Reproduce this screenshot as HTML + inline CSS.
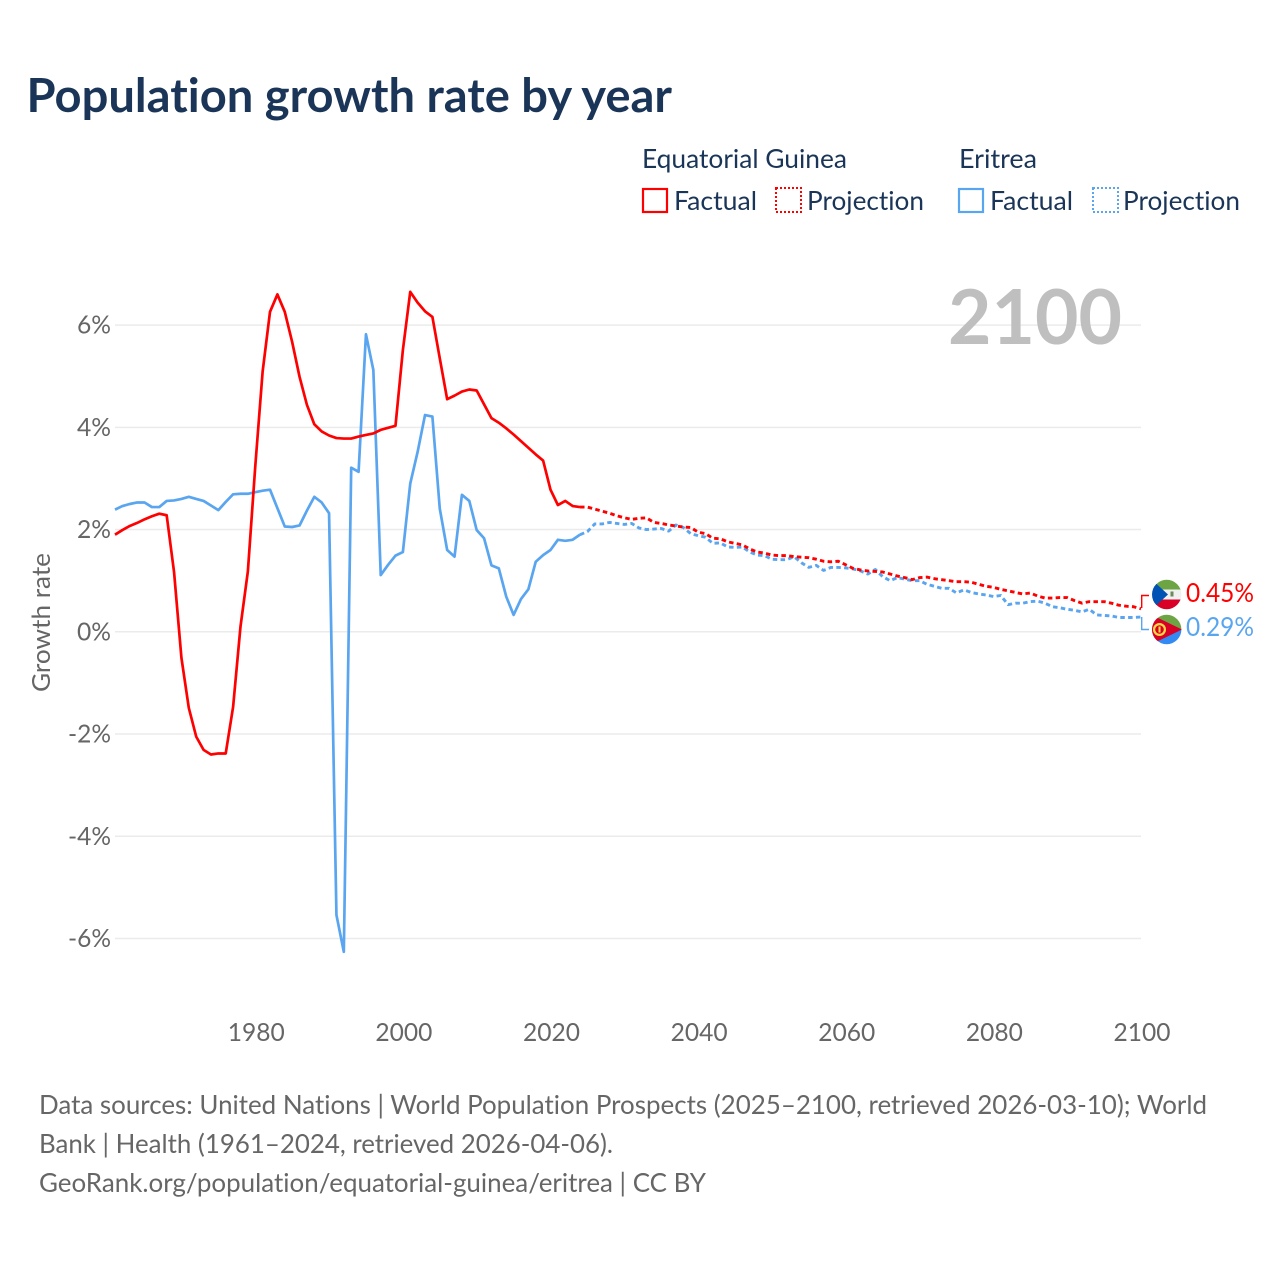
<!DOCTYPE html>
<html lang="en">
<head>
<meta charset="utf-8">
<title>Population growth rate by year</title>
<style>
html,body{margin:0;padding:0;background:#fff;}
svg{display:block;}
text{font-family:Lato,Carlito,"Liberation Sans",sans-serif;font-variant-ligatures:none;}
</style>
</head>
<body>
<svg id="chart" xmlns="http://www.w3.org/2000/svg" width="1280" height="1280" viewBox="0 0 1280 1280">
  <rect x="0" y="0" width="1280" height="1280" fill="#ffffff"/>
  <text x="26.5" y="112" font-size="47" font-weight="700" fill="#1a3557" textLength="645.5" lengthAdjust="spacingAndGlyphs">Population growth rate by year</text>

  <g font-size="26" fill="#1a3557">
    <text x="642" y="168" textLength="205" lengthAdjust="spacingAndGlyphs">Equatorial Guinea</text>
    <text x="959" y="168" textLength="78" lengthAdjust="spacingAndGlyphs">Eritrea</text>
    <rect x="643" y="189" width="24" height="23" fill="none" stroke="#ff0000" stroke-width="2.2"/>
    <text x="674" y="210" textLength="83" lengthAdjust="spacingAndGlyphs">Factual</text>
    <rect x="776" y="188" width="25" height="24" fill="none" stroke="#ff0000" stroke-width="2" stroke-dasharray="2 2"/>
    <text x="807" y="210" textLength="117" lengthAdjust="spacingAndGlyphs">Projection</text>
    <rect x="959" y="189" width="24" height="23" fill="none" stroke="#5aa5f0" stroke-width="2.2"/>
    <text x="990" y="210" textLength="83" lengthAdjust="spacingAndGlyphs">Factual</text>
    <rect x="1093" y="188" width="25" height="24" fill="none" stroke="#5aa5f0" stroke-width="2" stroke-dasharray="2 2"/>
    <text x="1123" y="210" textLength="117" lengthAdjust="spacingAndGlyphs">Projection</text>
  </g>

  <g id="grid"></g>
  <text x="948" y="344" font-size="76" font-weight="700" fill="#bfbfbf" textLength="174" lengthAdjust="spacingAndGlyphs">2100</text>
  <g id="y-ticks" font-size="25" fill="#666666"></g>
  <g id="x-ticks" font-size="25" fill="#666666"></g>
  <text transform="translate(50 692) rotate(-90)" font-size="25" fill="#666666" textLength="139" lengthAdjust="spacingAndGlyphs">Growth rate</text>
  <g id="series"></g>

  <defs>
    <clipPath id="flag-clip-top"><circle cx="1166.7" cy="594.5" r="14.7"/></clipPath>
    <clipPath id="flag-clip-bottom"><circle cx="1166.7" cy="629.5" r="14.7"/></clipPath>
  </defs>
  <g clip-path="url(#flag-clip-top)">
    <rect x="1150" y="579" width="34" height="11" fill="#6da544"/>
    <rect x="1150" y="589.5" width="34" height="10" fill="#f0f0f0"/>
    <rect x="1150" y="599.5" width="34" height="11" fill="#d80027"/>
    <polygon points="1152,579.8 1152,609.2 1168,594.5" fill="#0052b4"/>
    <rect x="1170.5" y="591.5" width="3" height="5" fill="#6d8a5a"/>
  </g>
  <g clip-path="url(#flag-clip-bottom)">
    <rect x="1150" y="614" width="34" height="16" fill="#6da544"/>
    <polygon points="1150,629.5 1184,629.5 1184,646 1150,646" fill="#338af3"/>
    <polygon points="1150,614 1182,629.5 1150,645" fill="#d80027"/>
    <circle cx="1159.5" cy="629.5" r="5.4" fill="none" stroke="#ffda44" stroke-width="2.2"/>
    <rect x="1158.5" y="626.5" width="2" height="6" fill="#ffda44"/>
  </g>
  <path d="M1141.7 608V595.5H1149" fill="none" stroke="#ff0000" stroke-width="1.4"/>
  <path d="M1141.7 617V629.5H1149" fill="none" stroke="#5aa5f0" stroke-width="1.4"/>
  <text id="end-label-top" x="1186" y="602" font-size="26" fill="#ff0000" textLength="68" lengthAdjust="spacingAndGlyphs"></text>
  <text id="end-label-bottom" x="1186" y="636" font-size="26" fill="#5aa5f0" textLength="68" lengthAdjust="spacingAndGlyphs"></text>

  <g font-size="26" fill="#666666">
    <text x="39" y="1114" textLength="1168" lengthAdjust="spacingAndGlyphs">Data sources: United Nations | World Population Prospects (2025–2100, retrieved 2026-03-10); World</text>
    <text x="39" y="1153" textLength="574" lengthAdjust="spacingAndGlyphs">Bank | Health (1961–2024, retrieved 2026-04-06).</text>
    <text x="39" y="1192" textLength="667" lengthAdjust="spacingAndGlyphs">GeoRank.org/population/equatorial-guinea/eritrea | CC BY</text>
  </g>
</svg>
<script>
const xTickYears = [1980, 2000, 2020, 2040, 2060, 2080, 2100];
const yTickValues = [6, 4, 2, 0, -2, -4, -6];
const factualFirstYear = 1961;
const projectionFirstYear = 2024;
const equatorialGuineaFactual = [
  1.90,1.99,2.07,2.13,2.20,2.26,2.31,2.28,1.17,-0.51,
  -1.49,-2.05,-2.31,-2.40,-2.38,-2.38,-1.47,0.10,1.18,3.23,
  5.09,6.26,6.60,6.26,5.67,4.99,4.44,4.06,3.92,3.84,
  3.79,3.78,3.78,3.82,3.85,3.88,3.95,3.99,4.03,5.51,
  6.65,6.44,6.27,6.16,5.35,4.55,4.62,4.70,4.74,4.72,
  4.45,4.18,4.09,3.98,3.86,3.73,3.60,3.47,3.35,2.78,
  2.48,2.56,2.46,2.44
];
const equatorialGuineaProjection = [
  2.44,2.44,2.40,2.36,2.32,2.27,2.23,2.20,2.22,2.23,
  2.14,2.12,2.09,2.07,2.05,2.04,1.95,1.92,1.83,1.82,
  1.76,1.73,1.70,1.62,1.56,1.54,1.50,1.49,1.49,1.47,
  1.46,1.45,1.42,1.38,1.37,1.38,1.31,1.24,1.21,1.19,
  1.18,1.17,1.13,1.09,1.06,1.02,1.06,1.07,1.04,1.02,
  1.00,0.98,0.98,0.97,0.93,0.89,0.87,0.83,0.80,0.77,
  0.74,0.76,0.70,0.66,0.66,0.67,0.67,0.61,0.56,0.59,
  0.59,0.59,0.56,0.52,0.50,0.49,0.45
];
const eritreaFactual = [
  2.39,2.46,2.50,2.53,2.53,2.44,2.44,2.56,2.57,2.60,
  2.64,2.60,2.56,2.47,2.38,2.54,2.69,2.70,2.70,2.73,
  2.76,2.78,2.42,2.06,2.05,2.08,2.37,2.64,2.53,2.32,
  -5.54,-6.26,3.21,3.13,5.82,5.12,1.11,1.31,1.49,1.56,
  2.90,3.52,4.24,4.21,2.41,1.60,1.47,2.68,2.56,1.99,
  1.83,1.30,1.24,0.69,0.33,0.64,0.83,1.37,1.50,1.60,
  1.80,1.78,1.80,1.90
];
const eritreaProjection = [
  1.90,1.96,2.11,2.11,2.14,2.12,2.10,2.12,2.03,2.00,
  2.01,2.02,1.97,2.09,2.04,1.92,1.88,1.85,1.73,1.74,
  1.66,1.65,1.66,1.56,1.50,1.49,1.42,1.41,1.41,1.47,
  1.35,1.26,1.30,1.20,1.26,1.26,1.25,1.23,1.19,1.13,
  1.22,1.08,1.00,1.06,1.03,1.00,1.00,0.93,0.89,0.85,
  0.85,0.76,0.82,0.77,0.74,0.72,0.69,0.71,0.53,0.56,
  0.56,0.59,0.60,0.56,0.49,0.47,0.44,0.42,0.39,0.44,
  0.33,0.32,0.31,0.28,0.28,0.28,0.29
];
const endLabels = ["0.45%", "0.29%"];

const SVG_NS = "http://www.w3.org/2000/svg";
function xScale(year) { return 115 + (year - 1961) * (1026 / 139); }
function yScale(value) { return 631.8 - value * 51.12; }

function linePath(firstYear, values) {
  return values.map(function (v, i) {
    return (i ? "L" : "M") + xScale(firstYear + i).toFixed(2) + " " + yScale(v).toFixed(2);
  }).join("");
}

const gridGroup = document.getElementById("grid");
const yTickGroup = document.getElementById("y-ticks");
const xTickGroup = document.getElementById("x-ticks");
const seriesGroup = document.getElementById("series");

yTickValues.forEach(function (v) {
  const line = document.createElementNS(SVG_NS, "line");
  
  
  line.setAttribute("x1", 115);
  line.setAttribute("x2", 1141);
  line.setAttribute("y1", yScale(v));
  line.setAttribute("y2", yScale(v));
  line.setAttribute("stroke", "#ebebeb");
  line.setAttribute("stroke-width", "1.5");
  gridGroup.appendChild(line);

  const label = document.createElementNS(SVG_NS, "text");
  
  
  const width = v < 0 ? 43 : 34;
  label.setAttribute("x", 111 - width);
  label.setAttribute("y", yScale(v) + 8.5);
  label.setAttribute("textLength", width);
  label.setAttribute("lengthAdjust", "spacingAndGlyphs");
  label.textContent = v + "%";
  yTickGroup.appendChild(label);
});

xTickYears.forEach(function (year) {
  const label = document.createElementNS(SVG_NS, "text");
  
  
  label.setAttribute("x", xScale(year) + 1 - 28.5);
  label.setAttribute("y", 1041);
  label.setAttribute("textLength", 57);
  label.setAttribute("lengthAdjust", "spacingAndGlyphs");
  label.textContent = year;
  xTickGroup.appendChild(label);
});

function addSeries(firstYear, values, color, dashed, name) {
  const path = document.createElementNS(SVG_NS, "path");
  
  
  path.setAttribute("d", linePath(firstYear, values));
  path.setAttribute("fill", "none");
  path.setAttribute("stroke", color);
  path.setAttribute("stroke-width", dashed ? "2.9" : "2.7");
  path.setAttribute("stroke-linejoin", "round");
  if (dashed) path.setAttribute("stroke-dasharray", "4.5 3.3");
  seriesGroup.appendChild(path);
}

addSeries(factualFirstYear, eritreaFactual, "#5aa5f0", false, "eritrea-factual-line");
addSeries(projectionFirstYear, eritreaProjection, "#5aa5f0", true, "eritrea-projection-line");
addSeries(factualFirstYear, equatorialGuineaFactual, "#ff0000", false, "equatorial-guinea-factual-line");
addSeries(projectionFirstYear, equatorialGuineaProjection, "#ff0000", true, "equatorial-guinea-projection-line");

document.getElementById("end-label-top").textContent = endLabels[0];
document.getElementById("end-label-bottom").textContent = endLabels[1];
</script>
</body>
</html>
